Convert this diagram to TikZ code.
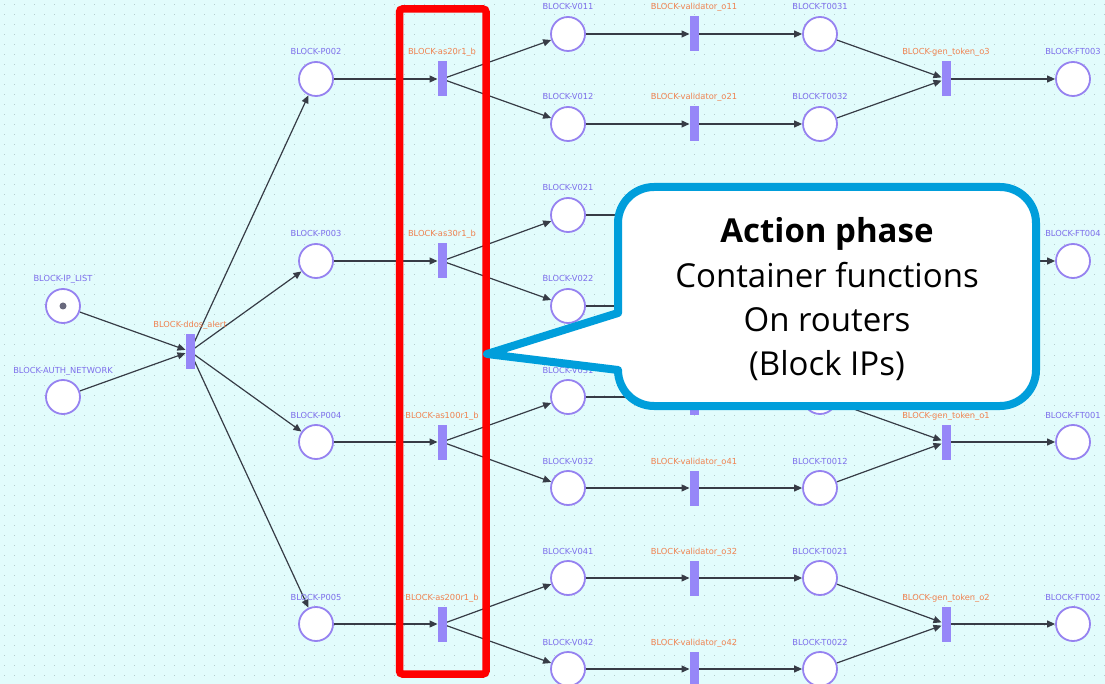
\documentclass[tikz,border=0pt]{standalone}
\usepackage{fontspec}
\newfontfamily\lblfont{DejaVu Sans}
\newfontfamily\callfont{Open Sans}
\usetikzlibrary{arrows.meta}

\definecolor{bgcyan}{RGB}{226,252,252}
\definecolor{griddot}{RGB}{180,205,205}
\definecolor{placeedge}{RGB}{150,130,240}
\definecolor{placetext}{RGB}{125,110,235}
\definecolor{transfill}{RGB}{150,135,248}
\definecolor{transtext}{RGB}{240,130,80}
\definecolor{flowcol}{RGB}{55,60,70}
\definecolor{tokencol}{RGB}{105,105,125}
\definecolor{calloutblue}{RGB}{0,158,219}
\definecolor{markred}{RGB}{255,0,0}

\pgfdeclarelayer{background}
\pgfdeclarelayer{flows}
\pgfsetlayers{background,flows,main}

\tikzset{
  place/.style={circle, draw=placeedge, line width=1.8pt, fill=white,
    minimum size=34pt, inner sep=0pt},
  trans/.style={rectangle, fill=transfill, minimum width=9pt,
    minimum height=35pt, inner sep=0pt, outer sep=0pt},
  plabel/.style={font=\lblfont\fontsize{8.3}{10}\selectfont, text=placetext,
    inner sep=0pt, anchor=base},
  tlabel/.style={plabel, text=transtext},
  flow/.style={draw=flowcol, line width=1.2pt,
    -{Triangle[length=8pt,width=7pt]}},
  token/.style={circle, fill=tokencol, minimum size=7pt, inner sep=0pt},
  callline/.style={font=\callfont\fontsize{33}{40}\selectfont,
    inner sep=0pt, anchor=base, text=black},
  callbold/.style={callline, font=\callfont\bfseries\fontsize{33}{40}\selectfont},
}

% place / transition with its caption above
\newcommand\placeat[4]{\node[place] (#1) at (#2,#3) {};
  \node[plabel] (#1-lab) at (#2,#3-24) {#4};}
\newcommand\placehid[3]{\node[place] (#1) at (#2,#3) {};}
\newcommand\transat[4]{\node[trans] (#1) at (#2,#3) {};
  \node[tlabel] (#1-lab) at (#2,#3-24) {#4};}
\newcommand\transhid[3]{\node[trans] (#1) at (#2,#3) {};}

\begin{document}
\begin{tikzpicture}[x=1pt, y=-1pt]
\useasboundingbox (0,0) rectangle (1105,684);

% canvas with dotted grid
\begin{pgfonlayer}{background}
  \fill[bgcyan] (0,0) rectangle (1105,684);
  \foreach \gy in {5,15,...,684}
    \draw[griddot, line width=1pt, dash pattern=on 1pt off 9pt] (4,\gy) -- (1105,\gy);
\end{pgfonlayer}

% input places and alert transition
\placeat{iplist}{63}{306}{BLOCK-IP\_LIST}
\node[token] (tok) at (iplist.center) {};
\placeat{auth}{63}{397}{BLOCK-AUTH\_NETWORK}
\transat{ddos}{190}{351.5}{BLOCK-ddos\_alert}

% branch a
\placeat{Pa}{316}{79}{BLOCK-P002}
\transat{Aa}{442}{79}{BLOCK-as20r1\_b}
\placeat{Va1}{568}{34}{BLOCK-V011}
\placeat{Va2}{568}{124}{BLOCK-V012}
\transat{Xa1}{694}{34}{BLOCK-validator\_o11}
\transat{Xa2}{694}{124}{BLOCK-validator\_o21}
\placeat{Ta1}{820}{34}{BLOCK-T0031}
\placeat{Ta2}{820}{124}{BLOCK-T0032}
\transat{Ga}{946}{79}{BLOCK-gen\_token\_o3}
\placeat{Fa}{1073}{79}{BLOCK-FT003}

% branch b
\placeat{Pb}{316}{261}{BLOCK-P003}
\transat{Ab}{442}{261}{BLOCK-as30r1\_b}
\placeat{Vb1}{568}{215}{BLOCK-V021}
\placeat{Vb2}{568}{306}{BLOCK-V022}
\transhid{Xb1}{694}{215}
\transhid{Xb2}{694}{306}
\placehid{Tb1}{820}{215}
\placehid{Tb2}{820}{306}
\transhid{Gb}{946}{261}
\placeat{Fb}{1073}{261}{BLOCK-FT004}

% branch c
\placeat{Pc}{316}{442}{BLOCK-P004}
\transat{Ac}{442}{442}{BLOCK-as100r1\_b}
\placeat{Vc1}{568}{397}{BLOCK-V031}
\placeat{Vc2}{568}{488}{BLOCK-V032}
\transhid{Xc1}{694}{397}
\transat{Xc2}{694}{488}{BLOCK-validator\_o41}
\placehid{Tc1}{820}{397}
\placeat{Tc2}{820}{488}{BLOCK-T0012}
\transat{Gc}{946}{442}{BLOCK-gen\_token\_o1}
\placeat{Fc}{1073}{442}{BLOCK-FT001}

% branch d
\placeat{Pd}{316}{624}{BLOCK-P005}
\transat{Ad}{442}{624}{BLOCK-as200r1\_b}
\placeat{Vd1}{568}{578}{BLOCK-V041}
\placeat{Vd2}{568}{669}{BLOCK-V042}
\transat{Xd1}{694}{578}{BLOCK-validator\_o32}
\transat{Xd2}{694}{669}{BLOCK-validator\_o42}
\placeat{Td1}{820}{578}{BLOCK-T0021}
\placeat{Td2}{820}{669}{BLOCK-T0022}
\transat{Gd}{946}{624}{BLOCK-gen\_token\_o2}
\placeat{Fd}{1073}{624}{BLOCK-FT002}

% arcs of the net
\begin{pgfonlayer}{flows}
  \draw[flow] (iplist) -- (ddos);
  \draw[flow] (auth) -- (ddos);
  \foreach \g in {a,b,c,d}{
    \draw[flow] (ddos) -- (P\g);
    \draw[flow] (P\g) -- (A\g);
    \foreach \s in {1,2}{
      \draw[flow] (A\g) -- (V\g\s);
      \draw[flow] (V\g\s) -- (X\g\s);
      \draw[flow] (X\g\s) -- (T\g\s);
      \draw[flow] (T\g\s) -- (G\g);
    }
    \draw[flow] (G\g) -- (F\g);
  }
\end{pgfonlayer}

% highlight of the action transitions
\draw[markred, line width=7.5pt, rounded corners=3pt] (399.5,9) rectangle (486,674);

% speech bubble
\filldraw[fill=white, draw=calloutblue, line width=8pt, line join=round]
  (618,313) -- (618,223) arc[start angle=180, end angle=270, radius=36]
  -- (1000,187) arc[start angle=270, end angle=360, radius=36]
  -- (1036,370) arc[start angle=0, end angle=90, radius=36]
  -- (654,406) arc[start angle=90, end angle=180, radius=36]
  -- (487,354) -- cycle;
\node[callbold] (cl1) at (827,243) {Action phase};
\node[callline] (cl2) at (827,288) {Container functions};
\node[callline] (cl3) at (827,332) {On routers};
\node[callline] (cl4) at (827,375) {(Block IPs)};
\end{tikzpicture}
\end{document}
